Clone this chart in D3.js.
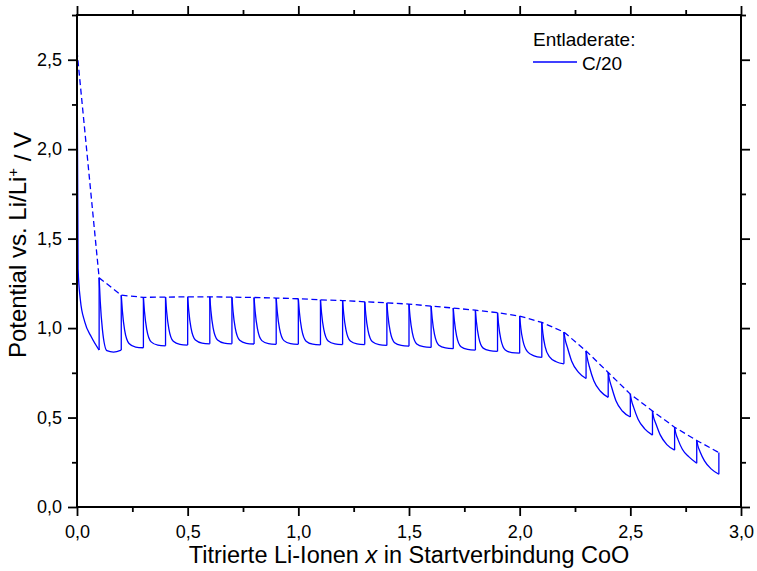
<!DOCTYPE html>
<html>
<head>
<meta charset="utf-8">
<script src="https://cdn.jsdelivr.net/npm/d3@7"></script>
<style>
  html, body { margin: 0; padding: 0; background: #fff; }
  svg { display: block; font-family: "Liberation Sans", Arial, sans-serif; }
</style>
</head>
<body>
<svg id="chart" width="757" height="571"></svg>
<script>
// ---- Data ----
// boundaries of titration steps (x = titrated Li per CoO)
const stepX = [0.0,0.1,0.2,0.3,0.4,0.5,0.6,0.7,0.8,0.9,1.0,1.1,1.2,1.3,1.4,1.5,1.6,1.7,1.8,1.9,2.0,2.1,2.2,2.3,2.4,2.5,2.6,2.7,2.8,2.9];
// relaxed (open-circuit) potential after each rest, dashed line
const relaxedV = [2.55,1.281,1.184,1.172,1.173,1.175,1.175,1.173,1.171,1.168,1.164,1.158,1.154,1.147,1.141,1.134,1.123,1.112,1.100,1.086,1.067,1.032,0.978,0.872,0.752,0.631,0.537,0.446,0.372,0.304];
// potential at the start of each pulse
const pulseStartV = [2.61,1.281,1.184,1.172,1.173,1.175,1.175,1.173,1.171,1.168,1.164,1.158,1.154,1.147,1.141,1.134,1.123,1.112,1.100,1.086,1.067,1.032,0.978,0.872,0.752,0.631,0.537,0.446,0.372];
// potential read inside each pulse at 5 %, 15 %, 35 % and 65 % of the pulse
const pulseV05 = [1.33,1.15,1.096,1.091,1.093,1.096,1.096,1.094,1.092,1.090,1.087,1.083,1.080,1.074,1.068,1.061,1.052,1.042,1.031,1.018,1.002,0.969,0.940,0.835,0.716,0.597,0.502,0.414,0.343];
const pulseV15 = [1.16,0.99,0.990,0.993,0.996,1.001,1.001,1.000,0.998,0.997,0.994,0.993,0.992,0.986,0.981,0.974,0.966,0.957,0.948,0.937,0.928,0.897,0.895,0.784,0.672,0.557,0.467,0.378,0.309];
const pulseV35 = [1.035,0.874,0.914,0.923,0.926,0.933,0.933,0.932,0.930,0.930,0.927,0.928,0.928,0.923,0.918,0.911,0.904,0.896,0.888,0.878,0.868,0.839,0.815,0.706,0.594,0.491,0.403,0.323,0.258];
const pulseV65 = [0.95,0.866,0.894,0.905,0.909,0.916,0.916,0.915,0.913,0.913,0.910,0.912,0.912,0.907,0.903,0.896,0.889,0.881,0.874,0.863,0.845,0.812,0.754,0.647,0.535,0.437,0.349,0.280,0.213];
// potential at the end of each pulse
const pulseEndV = [0.877,0.877,0.890,0.901,0.905,0.912,0.912,0.911,0.909,0.909,0.906,0.908,0.908,0.903,0.899,0.892,0.885,0.877,0.870,0.860,0.836,0.800,0.718,0.613,0.503,0.402,0.318,0.244,0.183];
const sampleFrac = [0, 0.05, 0.15, 0.35, 0.65, 1];
const pulseWidth = 0.1;

const xTicksMajor = [0, 0.5, 1.0, 1.5, 2.0, 2.5, 3.0];
const xTicksMinor = [0.25, 0.75, 1.25, 1.75, 2.25, 2.75];
const yTicksMajor = [0, 0.5, 1.0, 1.5, 2.0, 2.5];
const yTicksMinor = [0.25, 0.75, 1.25, 1.75, 2.25, 2.75];
const legendTitle = "Entladerate:";
const seriesName = "C/20";

// ---- Layout ----
const svg = d3.select("#chart");
const L = 77, R = 741, T = 15, B = 507;
const x = d3.scaleLinear().domain([0, 3]).range([L, R]);
const y = d3.scaleLinear().domain([0, 2.75]).range([B, T]);
const blue = "#0000ff";
const fmt = d => d.toFixed(1).replace(".", ",");

// ---- Data lines ----
const lineCurve = d3.line().x(d => x(d[0])).y(d => y(d[1])).curve(d3.curveMonotoneX);
const lineStraight = d3.line().x(d => x(d[0])).y(d => y(d[1]));
const gData = svg.append("g");

pulseStartV.forEach((v0, i) => {
  const x0 = stepX[i];
  const vals = [v0, pulseV05[i], pulseV15[i], pulseV35[i], pulseV65[i], pulseEndV[i]];
  const pts = vals.map((v, j) => [x0 + sampleFrac[j] * pulseWidth, v]);
  gData.append("path").attr("d", lineCurve(pts))
    .attr("fill", "none").attr("stroke", blue).attr("stroke-width", 1.3);
  const xe = x0 + pulseWidth;
  gData.append("path").attr("d", lineStraight([[xe, pulseEndV[i]], [xe, relaxedV[i + 1]]]))
    .attr("fill", "none").attr("stroke", blue).attr("stroke-width", 1.3);
});

gData.append("path")
  .attr("d", lineStraight(stepX.map((xx, i) => [xx, relaxedV[i]])))
  .attr("fill", "none").attr("stroke", blue).attr("stroke-width", 1.3)
  .attr("stroke-dasharray", "6,3.5");

// ---- Axes ----
function styleAxis(g) {
  g.select(".domain").remove();
  g.selectAll(".tick line").attr("stroke", "#000").attr("stroke-width", 1.8);
  g.selectAll(".tick text").attr("fill", "#000").style("font-size", "18px")
    .style("font-family", "'Liberation Sans', Arial, sans-serif");
}
svg.append("g").attr("transform", `translate(0,${B})`)
  .call(d3.axisBottom(x).tickValues(xTicksMajor).tickFormat(fmt).tickSize(9).tickPadding(9)).call(styleAxis);
svg.append("g").attr("transform", `translate(0,${B})`)
  .call(d3.axisBottom(x).tickValues(xTicksMinor).tickFormat("").tickSize(5)).call(styleAxis);
svg.append("g").attr("transform", `translate(0,${T})`)
  .call(d3.axisTop(x).tickValues(xTicksMajor).tickFormat("").tickSize(9)).call(styleAxis);
svg.append("g").attr("transform", `translate(0,${T})`)
  .call(d3.axisTop(x).tickValues(xTicksMinor).tickFormat("").tickSize(5)).call(styleAxis);
svg.append("g").attr("transform", `translate(${L},0)`)
  .call(d3.axisLeft(y).tickValues(yTicksMajor).tickFormat(fmt).tickSize(9).tickPadding(6)).call(styleAxis);
svg.append("g").attr("transform", `translate(${L},0)`)
  .call(d3.axisLeft(y).tickValues(yTicksMinor).tickFormat("").tickSize(5)).call(styleAxis);
svg.append("g").attr("transform", `translate(${R},0)`)
  .call(d3.axisRight(y).tickValues(yTicksMajor).tickFormat("").tickSize(9)).call(styleAxis);
svg.append("g").attr("transform", `translate(${R},0)`)
  .call(d3.axisRight(y).tickValues(yTicksMinor).tickFormat("").tickSize(5)).call(styleAxis);

svg.append("rect").attr("x", L).attr("y", T).attr("width", R - L).attr("height", B - T)
  .attr("fill", "none").attr("stroke", "#000").attr("stroke-width", 2);

// ---- Axis titles ----
const xt = svg.append("text").attr("x", (L + R) / 2).attr("y", 563)
  .attr("text-anchor", "middle").style("font-size", "23.5px").attr("fill", "#000");
xt.append("tspan").text("Titrierte Li-Ionen ");
xt.append("tspan").style("font-style", "italic").text("x");
xt.append("tspan").text(" in Startverbindung CoO");

const yt = svg.append("text").attr("transform", `translate(26,245) rotate(-90)`)
  .attr("text-anchor", "middle").style("font-size", "24px").attr("fill", "#000");
yt.append("tspan").text("Potential vs. Li/Li");
yt.append("tspan").attr("dy", "-0.55em").style("font-size", "15px").text("+");
yt.append("tspan").attr("dy", "0.55em").text(" / V");

// ---- Legend ----
svg.append("text").attr("x", 533).attr("y", 46).style("font-size", "19px").attr("fill", "#000").text(legendTitle);
svg.append("line").attr("x1", 533).attr("x2", 577).attr("y1", 62).attr("y2", 62)
  .attr("stroke", blue).attr("stroke-width", 1.3);
svg.append("text").attr("x", 582).attr("y", 70).style("font-size", "19px").attr("fill", "#000").text(seriesName);
</script>
</body>
</html>
